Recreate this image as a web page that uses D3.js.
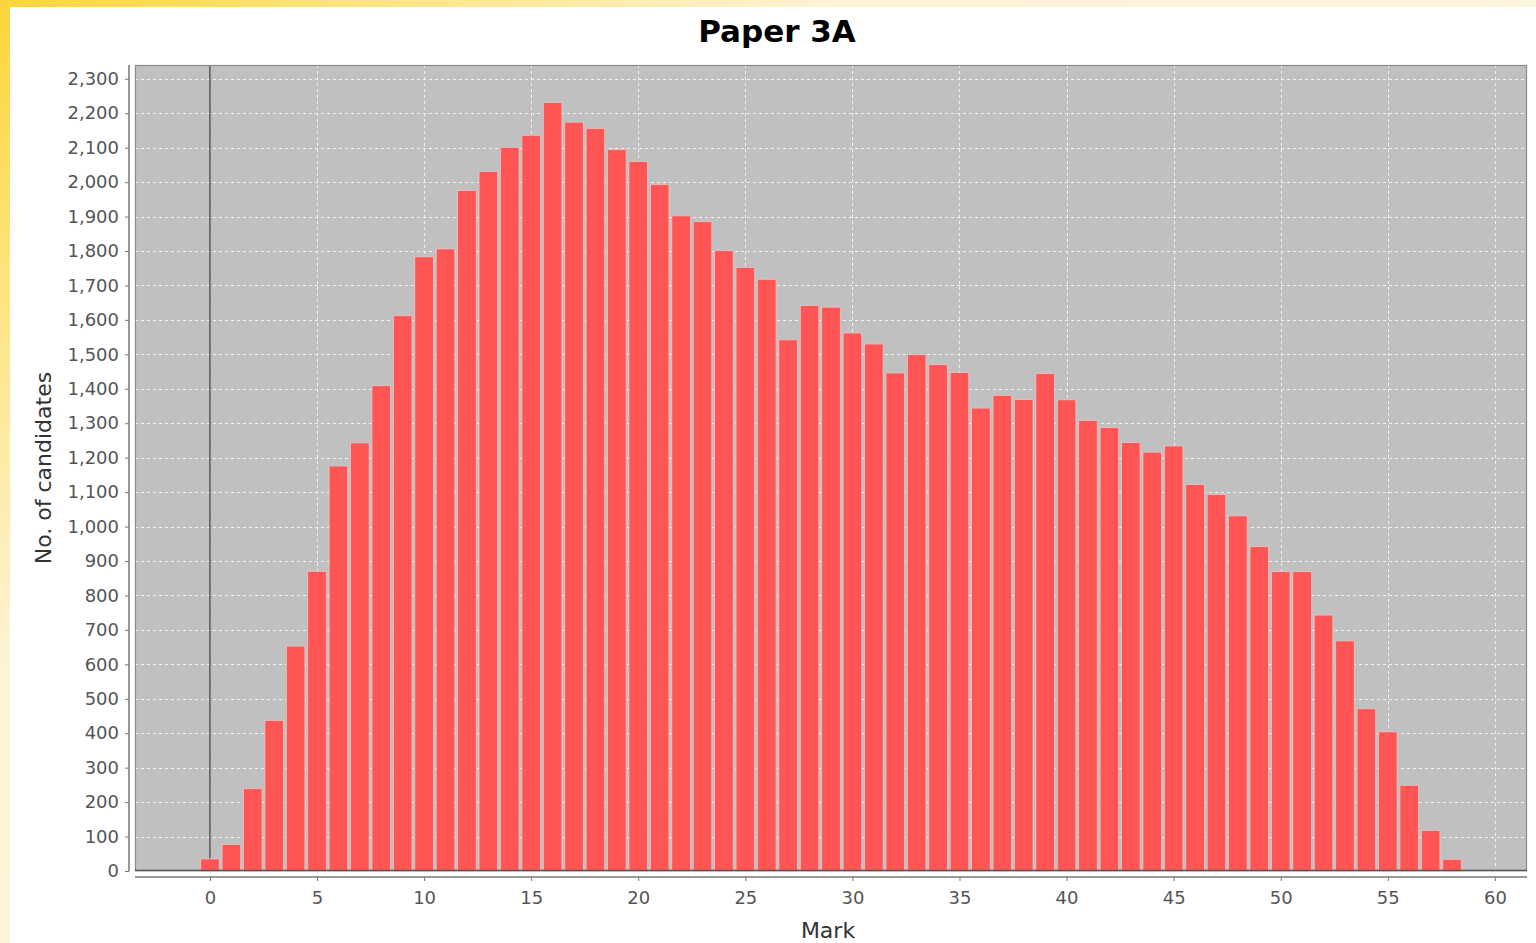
<!DOCTYPE html>
<html>
<head>
<meta charset="utf-8">
<script src="https://cdn.jsdelivr.net/npm/d3@7"></script>
<style>
  html, body { margin: 0; padding: 0; background: #fff; }
  svg { display: block; }
</style>
</head>
<body>
<svg id="chart" width="1536" height="943"></svg>
<script>
// marks 0..58 and number of candidates per mark
var marks = d3.range(0, 59);
var counts = [
  35, 77, 239, 437, 653, 870, 1176, 1243, 1409, 1612,
  1783, 1806, 1976, 2031, 2101, 2136, 2231, 2174, 2156, 2094,
  2060, 1993, 1902, 1885, 1801, 1752, 1718, 1542, 1642, 1637,
  1562, 1530, 1446, 1499, 1470, 1447, 1344, 1381, 1369, 1444,
  1368, 1308, 1287, 1244, 1216, 1234, 1122, 1093, 1031, 942,
  869, 869, 743, 668, 471, 404, 249, 118, 34
];
var yTicks = d3.range(0, 2301, 100);
var xTicks = d3.range(0, 61, 5);
var title = 'Paper 3A';
var xTitle = 'Mark';
var yTitle = 'No. of candidates';

var svg, defs, grad, plot, x, y, unit, data;
svg = d3.select('#chart');

// page background: yellow swoosh behind a white panel
defs = svg.append('defs');
grad = defs.append('linearGradient').attr('id', 'bg').attr('x1', 0).attr('y1', 0).attr('x2', 0.9).attr('y2', 0.7);
grad.append('stop').attr('offset', '0%').attr('stop-color', '#fcd43a');
grad.append('stop').attr('offset', '15%').attr('stop-color', '#fde37a');
grad.append('stop').attr('offset', '38%').attr('stop-color', '#fdf3d6');
grad.append('stop').attr('offset', '100%').attr('stop-color', '#fdf6e2');
svg.append('rect').attr('width', 1536).attr('height', 943).attr('fill', 'url(#bg)');
svg.append('rect').attr('x', 10).attr('y', 7).attr('width', 1526).attr('height', 936).attr('fill', '#fff');

var pLeft = 135, pRight = 1527, pTop = 65, pBottom = 871;
x = d3.scaleLinear().domain([-3.5, 61.5]).range([pLeft, pRight]);
y = d3.scaleLinear().domain([0, 2340]).range([pBottom, pTop]);
unit = x(1) - x(0);
data = marks.map(function(m, i){
  return { mark: m, value: counts[i] };
});

plot = svg.append('g');
plot.append('rect').attr('x', pLeft).attr('y', pTop).attr('width', pRight - pLeft).attr('height', pBottom - pTop)
  .attr('fill', '#c0c0c0');

// gridlines
plot.selectAll('line.hgrid').data(yTicks).enter().append('line').attr('class', 'hgrid')
  .attr('x1', pLeft).attr('x2', pRight)
  .attr('y1', function(d){ return Math.round(y(d)) + 0.5; })
  .attr('y2', function(d){ return Math.round(y(d)) + 0.5; })
  .attr('stroke', '#f2f2f2').attr('stroke-width', 1).attr('stroke-dasharray', '3,3');
plot.selectAll('line.vgrid').data(xTicks).enter().append('line').attr('class', 'vgrid')
  .attr('y1', pTop).attr('y2', pBottom)
  .attr('x1', function(d){ return Math.round(x(d)) + 0.5; })
  .attr('x2', function(d){ return Math.round(x(d)) + 0.5; })
  .attr('stroke', '#f2f2f2').attr('stroke-width', 1).attr('stroke-dasharray', '3,3');

// zero marker
plot.append('line').attr('x1', x(0)).attr('x2', x(0)).attr('y1', pTop).attr('y2', pBottom)
  .attr('stroke', '#555').attr('stroke-width', 1.5);

// bars
plot.selectAll('rect.bar').data(data).enter().append('rect').attr('class', 'bar')
  .attr('x', function(d){ return x(d.mark - 0.5) + 1.4; })
  .attr('width', unit - 2.8)
  .attr('y', function(d){ return y(d.value); })
  .attr('height', function(d){ return y(0) - y(d.value); })
  .attr('fill', '#ff5555')
  .attr('stroke', '#e9c4c4').attr('stroke-width', 0.8);

// plot outline
plot.append('rect').attr('x', pLeft + 0.5).attr('y', pTop + 0.5).attr('width', pRight - pLeft - 1).attr('height', pBottom - pTop - 1)
  .attr('fill', 'none').attr('stroke', '#8a8a8a').attr('stroke-width', 1.2);
plot.append('line').attr('x1', pLeft).attr('x2', pRight).attr('y1', pBottom - 0.5).attr('y2', pBottom - 0.5)
  .attr('stroke', '#555').attr('stroke-width', 1.5);

// axes, offset from the plot like the original
var yAxis = d3.axisLeft(y).tickValues(yTicks).tickSize(4).tickPadding(6).tickFormat(d3.format(','));
var gy = svg.append('g').attr('transform', 'translate(129,0)').call(yAxis);
gy.select('.domain').attr('d', 'M0,' + pTop + 'V' + pBottom).attr('stroke', '#999').attr('stroke-width', 2);
gy.selectAll('.tick line').attr('stroke', '#777');
gy.selectAll('.tick text').attr('fill', '#555').style('font-family', 'DejaVu Sans, Verdana, sans-serif').style('font-size', '18px');

var xAxis = d3.axisBottom(x).tickValues(xTicks).tickSize(4).tickPadding(10);
var gx = svg.append('g').attr('transform', 'translate(0,877)').call(xAxis);
gx.select('.domain').attr('d', 'M' + pLeft + ',0H' + pRight).attr('stroke', '#999').attr('stroke-width', 2);
gx.selectAll('.tick line').attr('stroke', '#777');
gx.selectAll('.tick text').attr('fill', '#555').style('font-family', 'DejaVu Sans, Verdana, sans-serif').style('font-size', '18px');

// titles
svg.append('text').attr('x', 777).attr('y', 42).attr('text-anchor', 'middle')
  .style('font-family', 'DejaVu Sans, Verdana, sans-serif').style('font-weight', 'bold').style('font-size', '31px')
  .attr('fill', '#000').text(title);
svg.append('text').attr('x', 828).attr('y', 938).attr('text-anchor', 'middle')
  .style('font-family', 'DejaVu Sans, Verdana, sans-serif').style('font-size', '22px')
  .attr('fill', '#333').text(xTitle);
svg.append('text').attr('transform', 'translate(51,468) rotate(-90)').attr('text-anchor', 'middle')
  .style('font-family', 'DejaVu Sans, Verdana, sans-serif').style('font-size', '22px')
  .attr('fill', '#333').text(yTitle);
</script>
</body>
</html>
